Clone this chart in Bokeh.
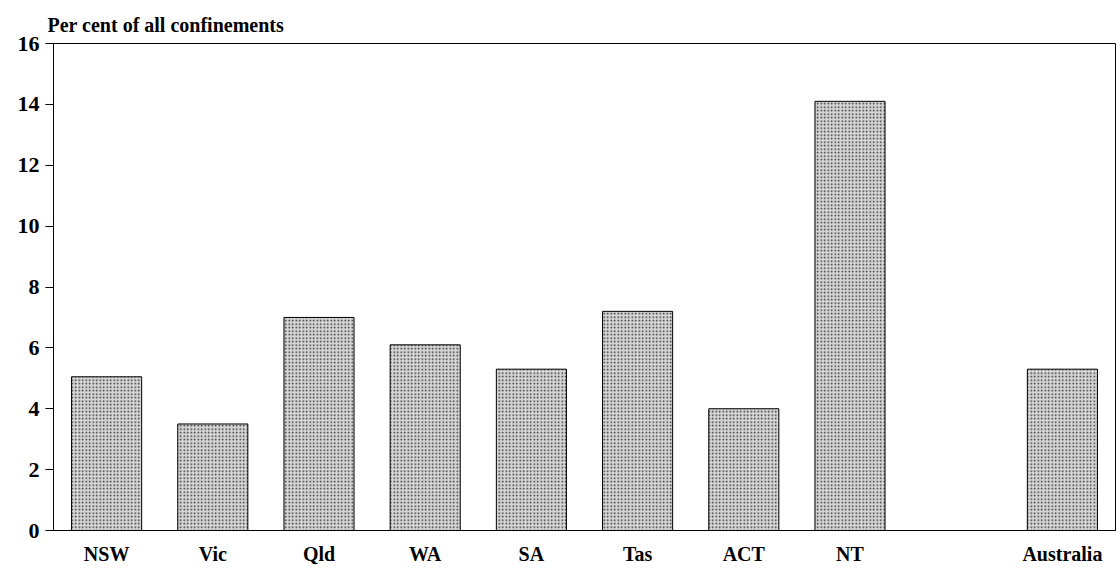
from bokeh.plotting import figure
from bokeh.models import FactorRange, Range1d, FixedTicker, ColumnDataSource
from bokeh.embed import file_html
from bokeh.resources import INLINE

categories = ["NSW", "Vic", "Qld", "WA", "SA", "Tas", "ACT", "NT", "Australia"]
values = [5.05, 3.5, 7.0, 6.1, 5.3, 7.2, 4.0, 14.1, 5.3]
y_ticks = [0, 2, 4, 6, 8, 10, 12, 14, 16]
y_title = "Per cent of all confinements"

# a blank slot separates the states from the national total
factors = categories[:8] + [" "] + categories[8:]

src = ColumnDataSource(dict(cat=categories, val=values))

p = figure(width=1116, height=570, x_range=FactorRange(factors=factors),
           y_range=Range1d(0, 16), output_backend="svg", toolbar_location=None,
           min_border_left=53, min_border_right=1, min_border_top=43,
           min_border_bottom=40)

p.vbar(x="cat", top="val", width=0.66, source=src,
       fill_color="#d6d6d6", line_color="black", line_width=1,
       hatch_pattern="dot", hatch_color="#111111", hatch_scale=3.5,
       hatch_weight=1.2, hatch_alpha=0.85)

p.title.text = y_title
p.title.text_font = "Liberation Serif"
p.title.text_font_size = "20px"
p.title.text_font_style = "bold"
p.title.text_color = "black"
p.title.align = "left"
p.title.offset = -6
p.title.standoff = 16

p.xgrid.visible = False
p.ygrid.visible = False
p.outline_line_color = "black"
p.outline_line_width = 1

p.yaxis.ticker = FixedTicker(ticks=y_ticks)
p.yaxis.minor_tick_line_color = None
p.yaxis.major_tick_out = 8
p.yaxis.major_tick_in = 0
p.yaxis.major_tick_line_color = "black"
p.yaxis.axis_line_color = "black"
p.yaxis.major_label_text_font = "Liberation Serif"
p.yaxis.major_label_text_font_style = "bold"
p.yaxis.major_label_text_font_size = "22px"
p.yaxis.major_label_text_color = "black"
p.yaxis.major_label_standoff = 6

p.xaxis.major_tick_line_color = None
p.xaxis.minor_tick_line_color = None
p.xaxis.axis_line_color = "black"
p.xaxis.major_label_text_font = "Liberation Serif"
p.xaxis.major_label_text_font_style = "bold"
p.xaxis.major_label_text_font_size = "20px"
p.xaxis.major_label_text_color = "black"
p.xaxis.major_label_standoff = 6
p.x_range.range_padding = 0
p.x_range.factor_padding = 0

open("out.html", "w").write(file_html(p, INLINE))
